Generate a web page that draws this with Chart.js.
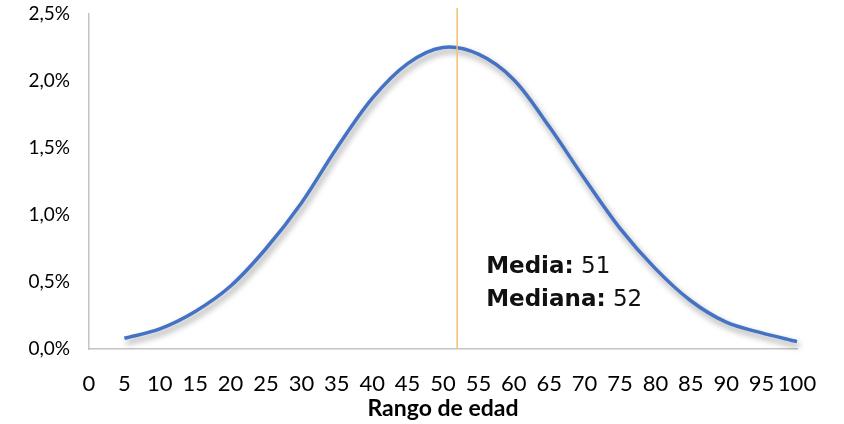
<!DOCTYPE html>
<html lang="es">
<head>
<meta charset="utf-8">
<title>Distribución por rango de edad</title>
<script src="https://cdn.jsdelivr.net/npm/chart.js@4.4.1/dist/chart.umd.min.js"></script>
<style>
  html, body { margin: 0; padding: 0; background: #ffffff; }
  #wrap { width: 844px; height: 424px; position: relative; }
</style>
</head>
<body>
<div id="wrap"><canvas id="chart" width="844" height="424"></canvas></div>
<script>
// Edad (años) y porcentaje de personas en cada edad
const ages = [5, 10, 15, 20, 25, 30, 35, 40, 45, 50, 55, 60, 65, 70, 75, 80, 85, 90, 95, 100];
const sharePct = [0.08, 0.15, 0.28, 0.47, 0.75, 1.09, 1.50, 1.87, 2.13, 2.25, 2.20, 2.01, 1.66, 1.27, 0.90, 0.60, 0.36, 0.20, 0.12, 0.055];

// Rango de los ejes
const xMin = 0, xMax = 100, xStep = 5;
const yMin = 0, yMax = 2.5, yStep = 0.5;

// Estadísticos resumidos
const meanAge = 51;
const medianAge = 52;

const FONT = 'Lato, "Open Sans", sans-serif';
const NOTE_FONT = '"DejaVu Sans", Lato, sans-serif';

// Sombra suave bajo la curva
const curveShadow = {
  id: 'curveShadow',
  beforeDatasetDraw(chart) {
    const ctx = chart.ctx;
    ctx.save();
    ctx.shadowColor = 'rgba(0,0,0,0.4)';
    ctx.shadowBlur = 6;
    ctx.shadowOffsetX = 2;
    ctx.shadowOffsetY = 4;
  },
  afterDatasetDraw(chart) {
    chart.ctx.restore();
  }
};

// Línea vertical en la mediana y rótulo con media y mediana
const medianMarker = {
  id: 'medianMarker',
  afterDatasetsDraw(chart) {
    const ctx = chart.ctx;
    const x = chart.scales.x.getPixelForValue(medianAge);
    const bottom = chart.scales.y.getPixelForValue(yMin);
    ctx.save();
    ctx.strokeStyle = '#F2C170';
    ctx.lineWidth = 1.5;
    ctx.beginPath();
    ctx.moveTo(x, chart.chartArea.top - 6);
    ctx.lineTo(x, bottom);
    ctx.stroke();

    const tx = x + 29;
    const lines = [['Media:', ' ' + meanAge], ['Mediana:', ' ' + medianAge]];
    ctx.fillStyle = '#111111';
    ctx.textBaseline = 'middle';
    ctx.textAlign = 'left';
    lines.forEach((ln, i) => {
      const ty = 267 + i * 33;
      ctx.font = 'bold 23px ' + NOTE_FONT;
      ctx.fillText(ln[0], tx, ty);
      const w = ctx.measureText(ln[0]).width;
      ctx.font = '23px ' + NOTE_FONT;
      ctx.fillText(ln[1], tx + w, ty);
    });
    ctx.restore();
  }
};

new Chart(document.getElementById('chart'), {
  type: 'line',
  data: {
    datasets: [{
      data: ages.map((a, i) => ({ x: a, y: sharePct[i] })),
      borderColor: '#4472C4',
      borderWidth: 3.5,
      pointRadius: 0,
      tension: 0.33,
      fill: false,
      clip: false
    }]
  },
  options: {
    responsive: false,
    animation: false,
    layout: { padding: { top: 14, right: 47, left: 0, bottom: 0 } },
    plugins: {
      legend: { display: false },
      tooltip: { enabled: false }
    },
    scales: {
      x: {
        type: 'linear',
        min: xMin,
        max: xMax,
        afterFit(scale) {
          scale.height = 75;
          scale.paddingLeft = 0;
          scale.paddingRight = 0;
        },
        grid: { display: true, drawOnChartArea: false, drawTicks: false },
        border: { display: true, color: '#C4C4C4', width: 1.5 },
        ticks: {
          stepSize: xStep,
          autoSkip: false,
          maxRotation: 0,
          minRotation: 0,
          padding: 22,
          color: '#000000',
          font: { family: FONT, size: 22 }
        },
        title: {
          display: true,
          text: 'Rango de edad',
          color: '#000000',
          font: { family: FONT, size: 23, weight: 'bold' },
          padding: { top: 0, bottom: 2 }
        }
      },
      y: {
        min: yMin,
        max: yMax,
        afterFit(scale) {
          scale.width = 89;
          scale.paddingTop = 0;
          scale.paddingBottom = 0;
        },
        grid: { display: true, drawOnChartArea: false, drawTicks: false },
        border: { display: true, color: '#C4C4C4', width: 1.5 },
        ticks: {
          stepSize: yStep,
          padding: 19,
          color: '#000000',
          font: { family: FONT, size: 19 },
          callback: v => v.toFixed(1).replace('.', ',') + '%'
        }
      }
    }
  },
  plugins: [curveShadow, medianMarker]
});
</script>
</body>
</html>
